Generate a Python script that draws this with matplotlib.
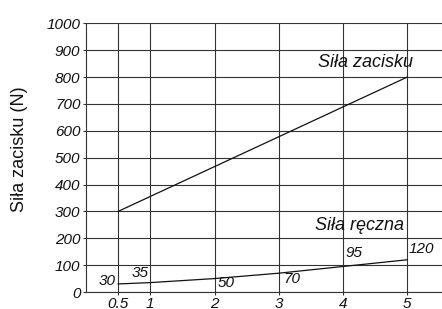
import matplotlib.pyplot as plt
from matplotlib.transforms import ScaledTranslation

plt.rcParams["font.family"] = "Liberation Sans"

# data
x_clamp = [0.5, 5]
clamp_force = [300, 800]
x_hand = [0.5, 1, 2, 3, 4, 5]
hand_force = [30, 35, 50, 70, 95, 120]
hand_labels = ["30", "35", "50", "70", "95", "120"]
x_ticks = [0.5, 1, 2, 3, 4, 5]
x_ticklabels = ["0.5", "1", "2", "3", "4", "5"]
y_ticks = list(range(0, 1001, 100))

fig = plt.figure(figsize=(4.42, 3.09), dpi=100)
ax = fig.add_axes([0.1946, 0.055, 0.8054, 0.8696])

ax.plot(x_clamp, clamp_force, color="#111111", lw=0.9)
ax.plot(x_hand, hand_force, color="#111111", lw=0.9)

# value labels on the hand-force line (offsets in points)
offsets = [(-2, 2, "right"), (-1.5, 7, "right"), (2, -3.5, "left"),
           (3, -4.5, "left"), (2, 10, "left"), (1, 7.5, "left")]
for xv, yv, lab, (dx, dy, ha) in zip(x_hand, hand_force, hand_labels, offsets):
    ax.annotate(lab, (xv, yv), xytext=(dx, dy), textcoords="offset points",
                ha=ha, va="center", fontsize=11, style="italic", color="#111111")

ax.text(4.35, 854, "Siła zacisku", ha="center", va="center", fontsize=13,
        style="italic", color="#111111")
ax.text(4.25, 247, "Siła ręczna", ha="center", va="center", fontsize=13,
        style="italic", color="#111111")

ax.set_xlim(0, 5.54)
ax.set_ylim(0, 1000)
ax.set_xticks(x_ticks)
ax.set_xticklabels(x_ticklabels)
ax.set_yticks(y_ticks)
for lbl in ax.get_xticklabels() + ax.get_yticklabels():
    lbl.set_style("italic")
    lbl.set_fontsize(11)
    lbl.set_color("#111111")
# y labels sit a little above their grid lines
shift = ScaledTranslation(0, 3 / 72, fig.dpi_scale_trans)
for lbl in ax.get_yticklabels():
    lbl.set_transform(lbl.get_transform() + shift)
ax.tick_params(length=2.5, width=0.8, color="#333333", pad=1.5)
ax.tick_params(axis="x", pad=0.8)

ax.grid(True, color="#333333", lw=0.8)
ax.set_axisbelow(True)
for s in ["top", "right"]:
    ax.spines[s].set_visible(False)
for s in ["left", "bottom"]:
    ax.spines[s].set_color("#333333")
    ax.spines[s].set_linewidth(0.8)

fig.text(0.045, 0.518, "Siła zacisku (N)", rotation=90, ha="center", va="center",
         fontsize=13, color="#111111")

fig.savefig("out.png", dpi=100)
